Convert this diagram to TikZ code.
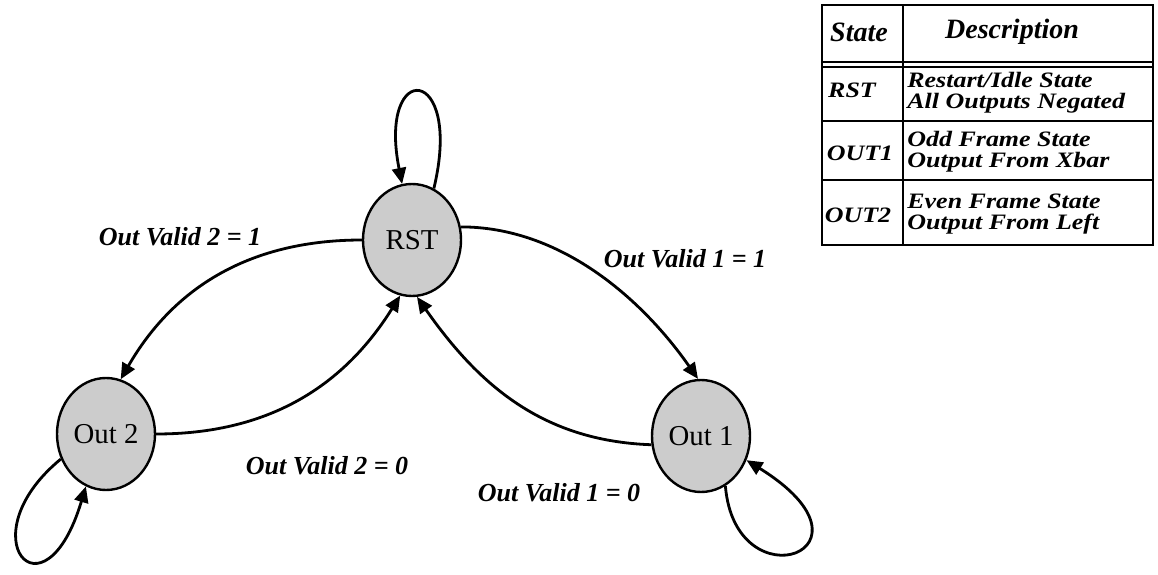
\documentclass[tikz,border=0pt]{standalone}
\usepackage{fontspec}
\setmainfont{Liberation Serif}
\newfontfamily\widefont[FakeStretch=1.18]{Liberation Serif}
\usetikzlibrary{arrows.meta,shapes.geometric}
\tikzset{
  state/.style={ellipse, draw, line width=1.2pt, fill=gray!40, minimum width=49pt, minimum height=56pt, inner sep=0pt, font=\fontsize{14.4}{16}\selectfont},
  trans/.style={line width=1.4pt, -{Triangle[length=8pt,width=7pt]}},
  cond/.style={font=\fontsize{13}{15}\selectfont\bfseries\itshape},
  cell/.style={inner sep=0pt, font=\widefont\fontsize{11}{10.5}\selectfont\bfseries\itshape},
  grid/.style={line width=1pt}
}
\begin{document}
\begin{tikzpicture}[x=0.5pt,y=0.5pt]
  \useasboundingbox (0,0) rectangle (1158,574);
  \node[state] (rst)  at (412,334) {RST};
  \node[state] (out2) at (106,140) {Out 2};
  \node[state] (out1) at (701,138) {Out 1};

  \draw[trans] (rst.180) to[out=180,in=60] (out2.75);
  \draw[trans] (out2.east) to[out=0,in=238] (rst.258);
  \draw[trans] (rst.15) to[out=0,in=125,looseness=0.9] (out1.93);
  \draw[trans] (out1.190) to[out=178,in=-55] (rst.275);

  \draw[trans] (rst.67) .. controls +(30,125) and +(-25,125) .. (rst.100);
  \draw[trans] (out2.209) .. controls +(-95,-78) and +(-42,-140) .. (out2.249);
  \draw[trans] (out1.296) .. controls +(10,-120) and +(145,-90) .. (out1.332);

  \node[cond] (v21) at (180,337) {Out Valid 2 = 1};
  \node[cond] (v11) at (685,315) {Out Valid 1 = 1};
  \node[cond] (v20) at (327,108) {Out Valid 2 = 0};
  \node[cond] (v10) at (559,81)  {Out Valid 1 = 0};

  \draw[grid] (822,329) rectangle (1153,569);
  \draw[grid] (903,329) -- (903,569);
  \draw[grid] (822,512) -- (1153,512);
  \draw[grid] (822,507) -- (1153,507);
  \draw[grid] (822,453) -- (1153,453);
  \draw[grid] (822,394) -- (1153,394);

  \node[cell,font=\fontsize{14}{16}\selectfont\bfseries\itshape] (hState) at (859,542) {State};
  \node[cell,font=\fontsize{14}{16}\selectfont\bfseries\itshape] (hDesc) at (1012,542) {Description};
  \node[cell] (sRst)  at (852,484) {RST};
  \node[cell] (sOut1) at (860,421) {OUT1};
  \node[cell] (sOut2) at (858,359) {OUT2};
  \node[cell,anchor=west,align=left] (dRst)  at (907,481) {Restart/Idle State\\All Outputs Negated};
  \node[cell,anchor=west,align=left] (dOut1) at (907,422) {Odd Frame State\\Output From Xbar};
  \node[cell,anchor=west,align=left] (dOut2) at (907,360) {Even Frame State\\Output From Left};
\end{tikzpicture}
\end{document}
